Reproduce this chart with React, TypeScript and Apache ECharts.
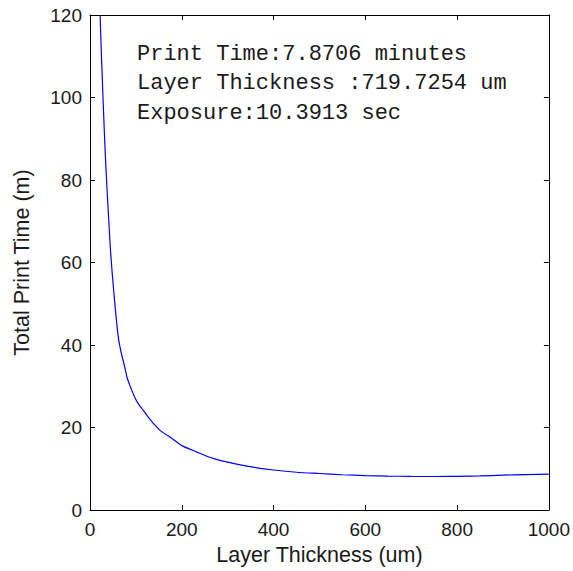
import React, { useEffect, useRef } from "react";
import * as echarts from "echarts";

const thickness = [22, 25, 29, 33, 37, 41, 44, 48, 51, 55, 59, 62, 66, 70, 74, 78, 81, 86, 90, 98, 106, 116, 127, 138, 156, 178, 200, 232, 268, 312, 355, 400, 450, 500, 550, 600, 650, 700, 750, 800, 850, 900, 950, 1000];
const printTime = [120, 110, 98, 87, 78, 70, 64, 58, 54, 49, 44.5, 41.6, 39.2, 37.2, 35.4, 33.5, 32, 30.5, 29.3, 27.2, 25.6, 24.2, 22.5, 21, 19, 17.4, 15.6, 14.1, 12.5, 11.3, 10.4, 9.7, 9.15, 8.85, 8.55, 8.35, 8.22, 8.14, 8.12, 8.16, 8.25, 8.45, 8.58, 8.7];
const annotations = ["Print Time:7.8706 minutes", "Layer Thickness :719.7254 um", "Exposure:10.3913 sec"];

const X_MIN = 0, X_MAX = 1000, X_STEP = 200;
const Y_MIN = 0, Y_MAX = 120, Y_STEP = 20;

export default function App() {
  const ref = useRef<HTMLDivElement>(null);
  useEffect(() => {
    if (!ref.current) return;
    const chart = echarts.init(ref.current, null, { renderer: "svg" });
    const axisColor = "#000";
    const labelColor = "#1a1a1a";
    const sans = "'Liberation Sans', Arial, sans-serif";
    const plain = (v: number) => String(v);
    chart.setOption({
      animation: false,
      backgroundColor: "#fff",
      grid: { left: 90, right: 23, top: 15, bottom: 61, containLabel: false },
      xAxis: [
        {
          type: "value", min: X_MIN, max: X_MAX, interval: X_STEP,
          name: "Layer Thickness (um)", nameLocation: "middle", nameGap: 33,
          nameTextStyle: { fontSize: 21.5, color: labelColor, fontFamily: sans },
          axisLine: { show: true, lineStyle: { color: axisColor, width: 1 } },
          axisTick: { show: true, inside: true, length: 5, lineStyle: { color: axisColor } },
          axisLabel: { fontSize: 19, color: labelColor, fontFamily: sans, margin: 10, formatter: plain },
          splitLine: { show: false },
        },
        {
          type: "value", position: "top", min: X_MIN, max: X_MAX, interval: X_STEP,
          axisLine: { show: true, onZero: false, lineStyle: { color: axisColor, width: 1 } },
          axisTick: { show: true, inside: true, length: 5, lineStyle: { color: axisColor } },
          axisLabel: { show: false }, splitLine: { show: false },
        },
      ],
      yAxis: [
        {
          type: "value", min: Y_MIN, max: Y_MAX, interval: Y_STEP,
          name: "Total Print Time (m)", nameLocation: "middle", nameGap: 57,
          nameTextStyle: { fontSize: 21.5, color: labelColor, fontFamily: sans },
          axisLine: { show: true, lineStyle: { color: axisColor, width: 1 } },
          axisTick: { show: true, inside: true, length: 5, lineStyle: { color: axisColor } },
          axisLabel: { fontSize: 19, color: labelColor, fontFamily: sans, margin: 8, formatter: plain },
          splitLine: { show: false },
        },
        {
          type: "value", position: "right", min: Y_MIN, max: Y_MAX, interval: Y_STEP,
          axisLine: { show: true, onZero: false, lineStyle: { color: axisColor, width: 1 } },
          axisTick: { show: true, inside: true, length: 5, lineStyle: { color: axisColor } },
          axisLabel: { show: false }, splitLine: { show: false },
        },
      ],
      series: [
        {
          type: "line",
          data: thickness.map((t, i) => [t, printTime[i]]),
          showSymbol: false,
          smooth: 0.2,
          lineStyle: { color: "#0000ff", width: 1.2 },
          itemStyle: { color: "#0000ff" },
          clip: true,
        },
      ],
      graphic: annotations.map((t, i) => ({
        type: "text",
        x: 137,
        y: 54 + i * 29.5,
        style: {
          text: t,
          font: "22px 'Liberation Mono', 'Courier New', monospace",
          fill: "#1a1a1a",
          verticalAlign: "middle",
        },
      })),
    });
    return () => chart.dispose();
  }, []);
  return (
    <div
      ref={ref}
      style={{ position: "fixed", left: 0, top: 0, width: 573, height: 571, background: "#fff" }}
    />
  );
}
